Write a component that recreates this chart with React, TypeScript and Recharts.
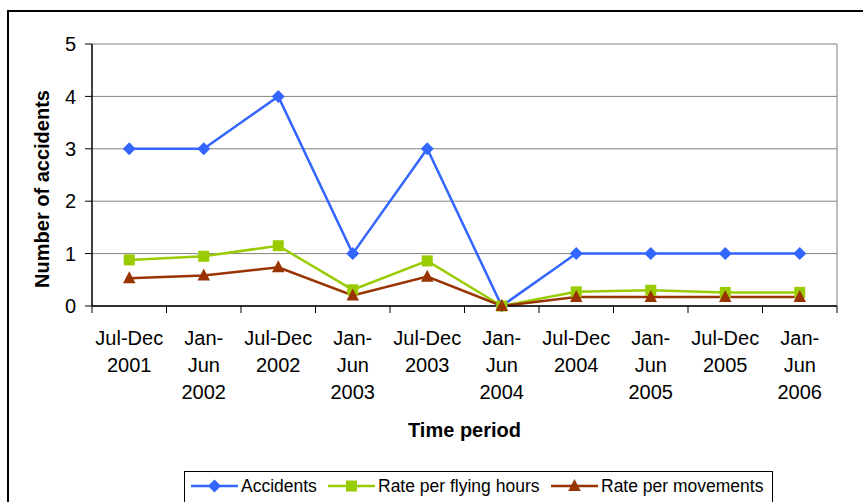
import { LineChart, Line, XAxis, YAxis, CartesianGrid, ReferenceLine } from 'recharts'

const periods = [
  'Jul-Dec 2001', 'Jan-Jun 2002', 'Jul-Dec 2002', 'Jan-Jun 2003', 'Jul-Dec 2003',
  'Jan-Jun 2004', 'Jul-Dec 2004', 'Jan-Jun 2005', 'Jul-Dec 2005', 'Jan-Jun 2006',
]
const accidents = [3, 3, 4, 1, 3, 0, 1, 1, 1, 1]
const ratePerFlyingHours = [0.88, 0.95, 1.15, 0.31, 0.86, 0, 0.27, 0.3, 0.26, 0.26]
const ratePerMovements = [0.53, 0.58, 0.74, 0.2, 0.56, 0, 0.17, 0.17, 0.17, 0.17]
const yTicks = [0, 1, 2, 3, 4, 5]

const BLUE = '#3366ff'
const GREEN = '#99cc00'
const RED = '#993300'
const FONT = 'Arial, "Liberation Sans", sans-serif'

// x sits at band centres (i + 0.5) so boundaries fall on whole numbers
const data = periods.map((p, i) => ({
  x: i + 0.5,
  accidents: accidents[i],
  flying: ratePerFlyingHours[i],
  movements: ratePerMovements[i],
}))
const xTicks = Array.from({ length: periods.length * 2 + 1 }, (_, i) => i / 2)

function splitPeriod(p: string) {
  const [months, year] = p.split(' ')
  if (months.startsWith('Jan')) return ['Jan-', 'Jun', year]
  return [months, year]
}

function XTick(props: any) {
  const { x, y, payload } = props
  const v = payload.value as number
  if (Number.isInteger(v)) {
    return <line x1={x} x2={x} y1={y} y2={y + 7} stroke="#000" strokeWidth={1} />
  }
  const lines = splitPeriod(periods[Math.floor(v)])
  return (
    <text x={x} y={y + 39} textAnchor="middle" fontSize={20} fill="#000" fontFamily={FONT}>
      {lines.map((l, i) => (
        <tspan key={i} x={x} dy={i === 0 ? 0 : 27}>{l}</tspan>
      ))}
    </text>
  )
}

const Diamond = ({ cx, cy, color, r = 6.5 }: any) => (
  <path d={`M${cx},${cy - r}L${cx + r},${cy}L${cx},${cy + r}L${cx - r},${cy}Z`} fill={color} />
)
const Square = ({ cx, cy, color, s = 11 }: any) => (
  <rect x={cx - s / 2} y={cy - s / 2} width={s} height={s} fill={color} />
)
const Triangle = ({ cx, cy, color, w = 12.5 }: any) => (
  <path d={`M${cx},${cy - 7}L${cx + w / 2},${cy + 5}L${cx - w / 2},${cy + 5}Z`} fill={color} />
)

const legendItems = [
  { label: 'Accidents', color: BLUE, Marker: Diamond, left: 191 },
  { label: 'Rate per flying hours', color: GREEN, Marker: Square, left: 328 },
  { label: 'Rate per movements', color: RED, Marker: Triangle, left: 551 },
]

export default function App() {
  return (
    <div style={{ position: 'fixed', left: 0, top: 0, width: 863, height: 502, overflow: 'hidden', background: '#fff', fontFamily: FONT }}>
      <div style={{ position: 'absolute', left: 7, top: 10, width: 900, height: 600, border: '2px solid #000', boxSizing: 'border-box' }} />
      <div style={{ position: 'absolute', left: 0, top: 0 }}>
        <LineChart width={863} height={502} data={data} margin={{ top: 44, right: 26, left: 0, bottom: 0 }}>
          <CartesianGrid vertical={false} stroke="#808080" strokeWidth={1} />
          <ReferenceLine x={10} stroke="#808080" strokeWidth={1} />
          <XAxis
            dataKey="x"
            type="number"
            domain={[0, 10]}
            ticks={xTicks}
            interval={0}
            height={196}
            tickSize={0}
            tickMargin={0}
            tickLine={false}
            axisLine={{ stroke: '#000', strokeWidth: 1.5 }}
            tick={(p: any) => <XTick {...p} />}
            label={{
              content: ({ viewBox }: any) => (
                <text x={viewBox.x + viewBox.width / 2} y={viewBox.y + 131} textAnchor="middle" fontSize={20} fontWeight="bold" fill="#000" fontFamily={FONT}>
                  Time period
                </text>
              ),
            }}
          />
          <YAxis
            type="number"
            domain={[0, 5]}
            ticks={yTicks}
            width={92}
            tickSize={7}
            tickMargin={9}
            tickLine={{ stroke: '#000' }}
            axisLine={{ stroke: '#000', strokeWidth: 1.5 }}
            tick={{ fill: '#000', fontSize: 20, fontFamily: FONT }}
            label={{
              content: ({ viewBox }: any) => {
                const cx = 42
                const cy = viewBox.y + viewBox.height / 2 + 14
                return (
                  <text x={cx} y={cy} transform={`rotate(-90 ${cx} ${cy})`} textAnchor="middle" dominantBaseline="central" fontSize={20} fontWeight="bold" fill="#000" fontFamily={FONT}>
                    Number of accidents
                  </text>
                )
              },
            }}
          />
          <Line dataKey="accidents" stroke={BLUE} strokeWidth={2.5} isAnimationActive={false}
            dot={(p: any) => <Diamond key={p.index} cx={p.cx} cy={p.cy} color={BLUE} />} activeDot={false} />
          <Line dataKey="flying" stroke={GREEN} strokeWidth={2.5} isAnimationActive={false}
            dot={(p: any) => <Square key={p.index} cx={p.cx} cy={p.cy} color={GREEN} />} activeDot={false} />
          <Line dataKey="movements" stroke={RED} strokeWidth={2.5} isAnimationActive={false}
            dot={(p: any) => <Triangle key={p.index} cx={p.cx} cy={p.cy} color={RED} />} activeDot={false} />
        </LineChart>
      </div>
      <div style={{ position: 'absolute', left: 184, top: 471, width: 589, height: 60, border: '1px solid #000', boxSizing: 'border-box' }} />
      {legendItems.map(({ label, color, Marker, left }) => (
        <div key={label} style={{ position: 'absolute', left, top: 476, height: 20, display: 'flex', alignItems: 'center' }}>
          <svg width={47} height={16} style={{ display: 'block' }}>
            <line x1={0} x2={47} y1={8} y2={8} stroke={color} strokeWidth={2.5} />
            <Marker cx={23.5} cy={8} color={color} />
          </svg>
          <span style={{ marginLeft: 3, fontSize: 17.5, color: '#000', lineHeight: '20px' }}>{label}</span>
        </div>
      ))}
    </div>
  )
}
